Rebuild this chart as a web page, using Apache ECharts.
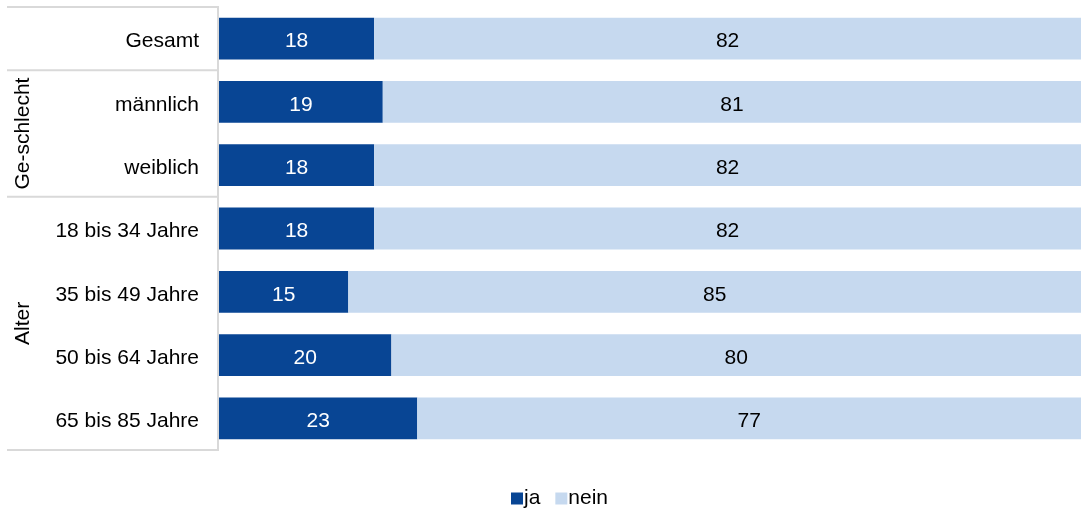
<!DOCTYPE html>
<html>
<head>
<meta charset="utf-8">
<script src="https://cdn.jsdelivr.net/npm/echarts@6/dist/echarts.min.js"></script>
<style>
  html, body { margin: 0; padding: 0; background: #fff; }
  #chart { width: 1081px; height: 513px; }
</style>
</head>
<body>
<div id="chart"></div>
<script>
// Kategorien (von oben nach unten) und Anteile in Prozent
const categories = ['Gesamt', 'männlich', 'weiblich', '18 bis 34 Jahre', '35 bis 49 Jahre', '50 bis 64 Jahre', '65 bis 85 Jahre'];
const jaValues = [18, 19, 18, 18, 15, 20, 23];
const neinValues = [82, 81, 82, 82, 85, 80, 77];
const seriesNames = ['ja', 'nein'];
// Gruppen: Beschriftung, erster und letzter Kategorie-Index
const groups = [
  { label: '', from: 0, to: 0 },
  { label: 'Ge-schlecht', from: 1, to: 2 },
  { label: 'Alter', from: 3, to: 6 }
];

const W = 1081, H = 513;
const gridLeft = 219, gridTop = 7, gridBottom = 63, gridRight = 0;
const plotH = H - gridTop - gridBottom;
const band = plotH / categories.length;
const lineColor = '#d9d9d9';
const fontFamily = 'Arial, "Liberation Sans", Helvetica, sans-serif';
const fs = 21;

const chart = echarts.init(document.getElementById('chart'));

// Rahmenlinien der Gruppentabelle links
const graphics = [];
graphics.push({ type: 'line', shape: { x1: 7, y1: gridTop, x2: gridLeft, y2: gridTop }, style: { stroke: lineColor, lineWidth: 2 } });
graphics.push({ type: 'line', shape: { x1: gridLeft - 1, y1: gridTop, x2: gridLeft - 1, y2: gridTop + plotH }, style: { stroke: lineColor, lineWidth: 2 } });
groups.forEach(g => {
  const yEnd = gridTop + (g.to + 1) * band;
  graphics.push({ type: 'line', shape: { x1: 7, y1: yEnd, x2: gridLeft, y2: yEnd }, style: { stroke: lineColor, lineWidth: 2 } });
  if (g.label) {
    const yMid = gridTop + (g.from + g.to + 1) / 2 * band;
    graphics.push({
      type: 'text', x: 23, y: yMid, rotation: Math.PI / 2,
      style: { text: g.label, fill: '#000', font: fs + 'px ' + fontFamily, textAlign: 'center', textVerticalAlign: 'middle' }
    });
  }
});

chart.setOption({
  animation: false,
  textStyle: { fontFamily: fontFamily },
  grid: { left: gridLeft, right: gridRight, top: gridTop, bottom: gridBottom, containLabel: false },
  legend: {
    bottom: -1, left: 506,
    data: seriesNames,
    icon: 'rect', itemWidth: 12, itemHeight: 12, itemGap: 15,
    textStyle: { fontSize: fs, color: '#000', padding: [0, 0, 0, -4] }
  },
  xAxis: { type: 'value', min: 0, max: 100, show: false },
  yAxis: {
    type: 'category', data: categories, inverse: true,
    axisLine: { show: false }, axisTick: { show: false },
    axisLabel: {
      color: '#000', margin: 20,
      formatter: v => '{c|' + v + '}',
      rich: { c: { fontSize: fs, color: '#000', padding: [6, 0, 0, 0] } }
    }
  },
  series: [
    {
      name: seriesNames[0], type: 'bar', stack: 'total', data: jaValues, barWidth: '66%',
      itemStyle: { color: '#084594' },
      label: { show: true, position: 'inside', color: '#fff', fontSize: fs, offset: [0, 3] }
    },
    {
      name: seriesNames[1], type: 'bar', stack: 'total', data: neinValues, barWidth: '66%',
      itemStyle: { color: '#c6d9ef' },
      label: { show: true, position: 'inside', color: '#000', fontSize: fs, offset: [0, 3] }
    }
  ],
  graphic: graphics
});
</script>
</body>
</html>
